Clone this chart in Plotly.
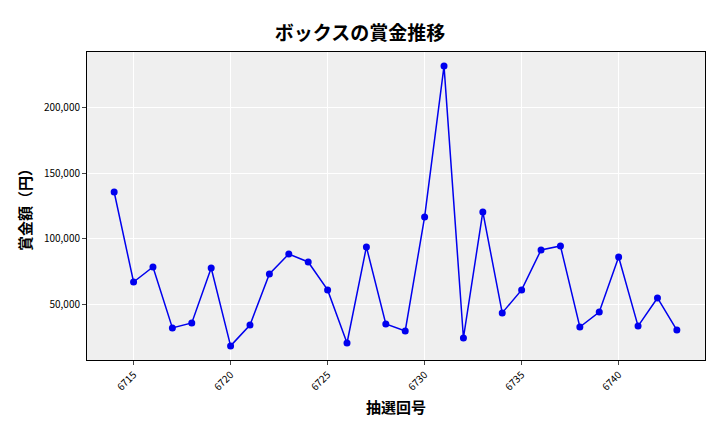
import plotly.graph_objects as go

draws = list(range(6714, 6744))
prizes = [135600, 67400, 78800, 32600, 36400, 78000, 19000, 34800, 73500, 88600,
          82600, 61400, 21200, 94000, 35600, 30300, 116700, 231000, 25000, 120500,
          44000, 61400, 91700, 94700, 33300, 44700, 86400, 34000, 55300, 31000]
tick_vals = [6715, 6720, 6725, 6730, 6735, 6740]

fig = go.Figure(go.Scatter(
    x=draws, y=prizes, mode="lines+markers",
    line=dict(color="#0000ee", width=1.5),
    marker=dict(color="#0000ee", size=7),
))

font = "Noto Sans CJK JP"
# page body adds an 8px margin, so the figure is drawn at 704x416
fig.update_layout(
    width=704, height=416,
    paper_bgcolor="white", plot_bgcolor="#efefef",
    margin=dict(l=79, r=7, t=44, b=64),
    font=dict(family=font, color="black"),
    title=dict(text="<b>ボックスの賞金推移</b>", x=0.5, y=0.955, xanchor="center",
               font=dict(size=19, family=font)),
    showlegend=False,
)
fig.update_xaxes(
    range=[6712.6, 6744.45], tickvals=tick_vals, tickangle=-45,
    tickfont=dict(size=10), showgrid=True, gridcolor="white", gridwidth=1,
    showline=True, linecolor="black", mirror=True, ticks="outside", ticklen=4,
    title=dict(text="<b>抽選回号</b>", font=dict(size=15), standoff=10),
)
fig.update_yaxes(
    range=[8300, 241700], tickvals=[50000, 100000, 150000, 200000],
    tickformat=",", tickfont=dict(size=10), showgrid=True, gridcolor="white",
    showline=True, linecolor="black", mirror=True, ticks="outside", ticklen=4,
    title=dict(text="<b>賞金額（円）</b>", font=dict(size=15), standoff=8),
)

fig.write_html("out.html")
